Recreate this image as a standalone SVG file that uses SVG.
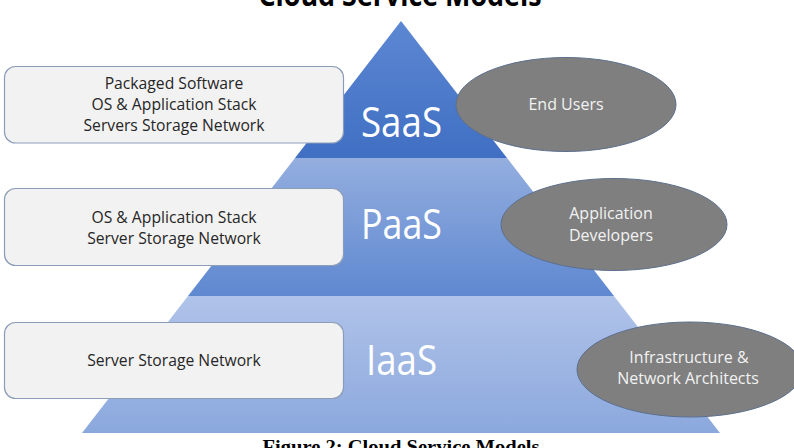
<svg xmlns="http://www.w3.org/2000/svg" width="794" height="448" viewBox="0 0 794 448">
<defs>
<linearGradient id="gSaaS" x1="0" y1="0" x2="0" y2="1"><stop offset="0" stop-color="#5C87D2"/><stop offset="1" stop-color="#406FC3"/></linearGradient>
<linearGradient id="gPaaS" x1="0" y1="0" x2="0" y2="1"><stop offset="0" stop-color="#94AEDF"/><stop offset="1" stop-color="#5E88D0"/></linearGradient>
<linearGradient id="gIaaS" x1="0" y1="0" x2="0" y2="1"><stop offset="0" stop-color="#B0C3E9"/><stop offset="1" stop-color="#8BA8DD"/></linearGradient>
<style>
.box{fill:#F2F2F2;stroke:#8C9DB8;stroke-width:1.2}
.ell{fill:#7F7F7F;stroke:#5C6F8E;stroke-width:1}
.bt{font-family:"Open Sans","Liberation Sans",sans-serif;font-size:15.7px;fill:#262626;text-anchor:middle}
.et{font-family:"Open Sans","Liberation Sans",sans-serif;font-size:16px;fill:#F2F2F2;text-anchor:middle}
.tier{font-family:"Open Sans","Liberation Sans",sans-serif;font-size:42px;fill:#FFFFFF}
</style>
</defs>
<rect width="794" height="448" fill="#FFFFFF"/>
<text x="400" y="6" font-family="'Open Sans','Liberation Sans',sans-serif" font-weight="bold" font-size="30" text-anchor="middle" textLength="283" lengthAdjust="spacingAndGlyphs" fill="#000">Cloud Service Models</text>
<g id="pyramid">
<g id="saas-tier"><polygon points="401,21 507,158 295,158" fill="url(#gSaaS)"/></g>
<g id="paas-tier"><polygon points="295,158 507,158 614,296 188,296" fill="url(#gPaaS)"/></g>
<g id="iaas-tier"><polygon points="188,296 614,296 720,433 82,433" fill="url(#gIaaS)"/></g>
</g>
<g id="box-saas">
<rect class="box" x="4.5" y="66.5" width="339" height="76.5" rx="11"/>
<text class="bt" x="174" y="89">Packaged Software</text>
<text class="bt" x="174" y="110">OS &amp; Application Stack</text>
<text class="bt" x="174" y="131">Servers Storage Network</text>
</g>
<g id="box-paas">
<rect class="box" x="4.5" y="188.5" width="339" height="77" rx="11"/>
<text class="bt" x="174" y="223">OS &amp; Application Stack</text>
<text class="bt" x="174" y="244">Server Storage Network</text>
</g>
<g id="box-iaas">
<rect class="box" x="4.5" y="322.5" width="339" height="76" rx="11"/>
<text class="bt" x="174" y="366">Server Storage Network</text>
</g>
<g id="label-saas"><text class="tier" x="361" y="137" textLength="81" lengthAdjust="spacingAndGlyphs">SaaS</text></g>
<g id="label-paas"><text class="tier" x="361" y="239" textLength="81" lengthAdjust="spacingAndGlyphs">PaaS</text></g>
<g id="label-iaas"><text class="tier" x="366" y="375" textLength="71" lengthAdjust="spacingAndGlyphs">IaaS</text></g>
<g id="end-users">
<ellipse class="ell" cx="566" cy="104.5" rx="110" ry="47"/>
<text class="et" x="566" y="110">End Users</text>
</g>
<g id="app-devs">
<ellipse class="ell" cx="614" cy="224.5" rx="113" ry="46"/>
<text class="et" x="611" y="219">Application</text>
<text class="et" x="611" y="241">Developers</text>
</g>
<g id="infra-archs">
<ellipse class="ell" cx="690" cy="369.5" rx="113" ry="47.5"/>
<text class="et" x="689" y="363">Infrastructure &amp;</text>
<text class="et" x="688" y="384">Network Architects</text>
</g>
<text x="401" y="453" font-family="'Liberation Serif','Times New Roman',serif" font-weight="bold" font-size="18" text-anchor="middle" textLength="277" lengthAdjust="spacingAndGlyphs" fill="#000">Figure 2:  Cloud Service Models</text>
</svg>
